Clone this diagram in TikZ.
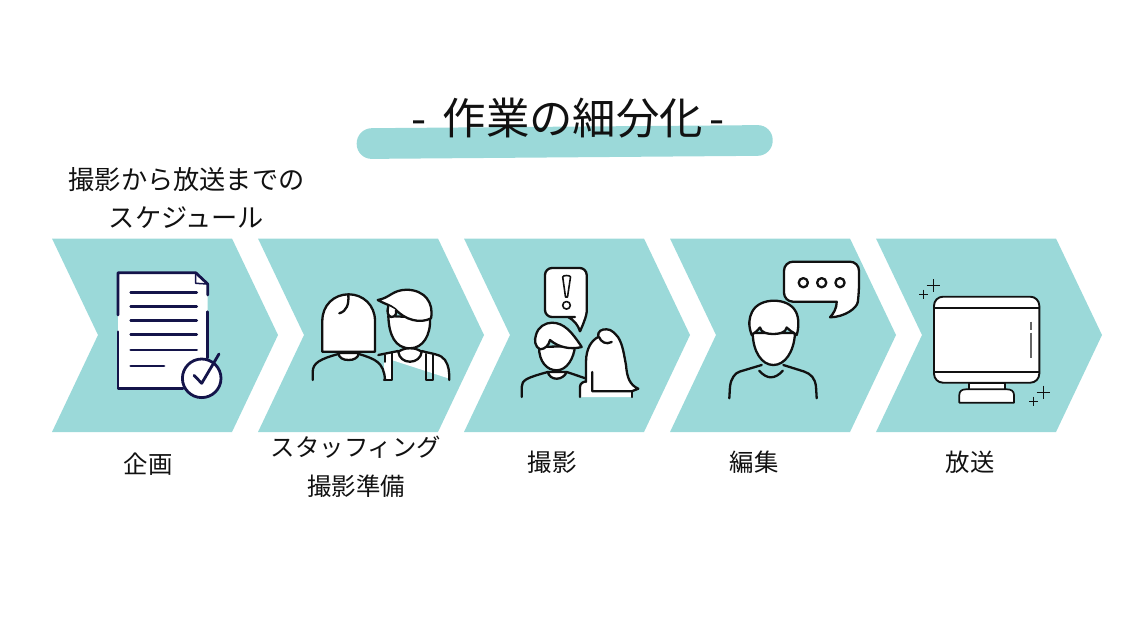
\documentclass[tikz,border=0pt]{standalone}
\usepackage{fontspec}
\setmainfont{Noto Sans CJK JP}
\definecolor{tealband}{HTML}{9BD9D9}
\definecolor{navyline}{HTML}{14144A}
\definecolor{inkline}{HTML}{111111}
\definecolor{screenline}{HTML}{666666}
\tikzset{
  iconline/.style={draw=inkline,fill=white,line width=2.3pt,line join=round,line cap=round},
  openline/.style={draw=inkline,line width=2.3pt,line join=round,line cap=round},
  docline/.style={draw=navyline,line width=2.8pt,line cap=round,line join=round},
  steplabel/.style={font=\fontsize{24.4}{24.4}\selectfont,inner sep=0pt,text=inkline},
  notelabel/.style={font=\fontsize{26.2}{26.2}\selectfont,inner sep=0pt,text=inkline}
}
\begin{document}
\begin{tikzpicture}
[x=1pt,y=-1pt]
\useasboundingbox (0,0) rectangle (1140,641);
% bands
\foreach \x in {0,206,412,618,824}
  \fill[tealband] (52+\x,238.5) -- (232+\x,238.5) -- (278+\x,335) -- (232+\x,432)
    -- (52+\x,432) -- (98+\x,335) -- cycle;
% title
\fill[tealband,rounded corners=15pt] (356.7,128.3) -- (772.7,125) -- (772.7,155.7) -- (356.7,159) -- cycle;
\node[inner sep=0pt,font=\fontsize{43.4}{43.4}\selectfont,text=inkline] (title) at (568,118) {-\hspace{6pt} 作業の細分化\hspace{6pt}-};
\node[notelabel] (note1) at (186.5,180) {撮影から放送までの};
\node[notelabel] (note2) at (186.5,217.5) {スケジュール};
\node[steplabel] (plan) at (148,464) {企画};
\node[steplabel] (staff1) at (356,447) {スタッフィング};
\node[steplabel] (staff2) at (356,486) {撮影準備};
\node[steplabel] (shoot) at (552,462) {撮影};
\node[steplabel] (edit) at (754,462) {編集};
\node[steplabel] (air) at (970,462) {放送};
% document
\fill[white] (118,272.7) -- (195.7,272.7) -- (207.7,284) -- (207.7,388.7) -- (118,388.7) -- cycle;
\draw[docline] (118,315) -- (118,272.7) -- (195.7,272.7) -- (207.7,284) -- (207.7,295);
\draw[docline] (207.7,311.7) -- (207.7,358);
\draw[docline] (118,331.7) -- (118,388.7) -- (183,388.7);
\draw[docline,line width=1.5pt] (195.7,272.7) -- (195.7,283.3) -- (207.7,284);
\foreach \y in {292.7,306.7,320.7,334.7,350}
  \draw[docline] (130.7,\y) -- (196.7,\y);
\draw[docline] (130.7,366) -- (164,366);
\draw[docline,fill=white] (201.7,378.3) circle (19.3);
\draw[docline] (194,375.3) -- (201.7,383.3) -- (219,354);
% two people
\fill[white] (384,353) -- (421.7,351) -- (441.7,355.7) -- (449.3,368.3) -- (449.3,380) -- (448.3,378.3)
  -- (391.7,360) -- (391.7,380) -- (384,380) -- cycle;
\draw[openline] (378.3,355) -- (398.3,351);
\draw[openline] (421.7,351) .. controls (432,354) and (441,354) .. (445,360) .. controls (449,366) and (449.3,372) .. (449.3,380);
\draw[openline] (384,380) -- (391.7,380) -- (391.7,353);
\draw[openline,line width=1.5pt] (385,355) -- (385,362);
\draw[openline] (425.7,354) -- (425.7,380) -- (433.3,380) -- (433.3,354);
\draw[iconline] (388.3,316) .. controls (389,335) and (395,348.3) .. (410,348.3)
  .. controls (423,348.3) and (431,335) .. (430,318) -- cycle;
\draw[iconline] (398.3,351.7) .. controls (399,358) and (404,361.7) .. (410,361.7) .. controls (416,361.7) and (421,358) .. (421.7,351.7)
  .. controls (417,349) and (415,348.3) .. (410,348.3) .. controls (405,348.3) and (403,349) .. (398.3,351.7) -- cycle;
\draw[iconline] (377.7,300) .. controls (390,298) and (392,290) .. (406.7,289.7) .. controls (425,290) and (434,303) .. (431,318.3)
  .. controls (420,324) and (405,320) .. (395,309) .. controls (390,305) and (385,304) .. (377.7,300) -- cycle;
\draw[iconline] (388.3,305.7) .. controls (387,312) and (387,315) .. (391,317) .. controls (395,317) and (397,314) .. (396,310);
\draw[openline] (312.7,380) -- (312.7,372) .. controls (312.7,363) and (320,359) .. (338.3,354);
\draw[openline] (359,354) .. controls (375,359) and (384,362) .. (385,380);
\draw[iconline] (338.3,353) .. controls (339,358) and (343,360) .. (348.7,360) .. controls (354,360) and (358,358) .. (359,353) -- cycle;
\draw[iconline] (322.3,351.7) -- (322.3,321) .. controls (322.3,305) and (334,294.3) .. (348.7,294.3)
  .. controls (363,294.3) and (375,305) .. (375,321) -- (375,351.7) -- cycle;
\draw[openline] (348.3,295) .. controls (349,304) and (347,311) .. (339.3,313.3);
% man and woman talking
\draw[iconline,rounded corners=7pt] (575,317) -- (545,317) -- (545,268) -- (586.7,268) -- (586.7,305)
  [sharp corners] .. controls (586.7,315) and (583,325) .. (580,331.3) .. controls (578,325) and (574,320) .. (568,317) -- cycle;
\draw[openline,line width=1.6pt] (562.7,277) .. controls (562.7,275) and (570.5,275) .. (570.5,277)
  -- (567.5,297) -- (565.5,297) -- cycle;
\draw[openline,line width=1.6pt] (566.5,305.3) circle (3.8);
\draw[openline] (521.7,397) -- (521.7,387) .. controls (522,380) and (526,378) .. (547.7,372);
\draw[openline] (566.7,372) -- (586.7,378.7);
\draw[iconline] (547.7,372) .. controls (549,376) and (552,378.7) .. (556.7,378.7) .. controls (561,378.7) and (565,376) .. (566.7,372) -- cycle;
\draw[iconline] (539,347) .. controls (539,362) and (547,370.3) .. (556.7,370.3) .. controls (567,370.3) and (574,358) .. (575,346) -- cycle;
\draw[iconline] (581.7,347) .. controls (570,350) and (558,347) .. (550,340) .. controls (549,345) and (545,349.3) .. (540,349.3)
  .. controls (535,347) and (534,340) .. (536,335) .. controls (538,327) and (545,322.7) .. (552,322.7) .. controls (564,322.7) and (572,332) .. (581.7,347) -- cycle;
\fill[white] (580,397) -- (580,387) .. controls (580,383) and (583,382) .. (587,381) -- (631.7,385) -- (631.7,397) -- cycle;
\draw[openline] (580,397) -- (580,387) .. controls (580,383) and (583,382) .. (587,381);
\draw[openline] (631.7,391) -- (631.7,397);
\fill[white] (586,382) -- (586,362) .. controls (586,348) and (592,340) .. (598.3,337)
  .. controls (597,331) and (602,329) .. (606.7,329.3) .. controls (612,329.3) and (615,334) .. (618,337)
  .. controls (623,345) and (624,355) .. (626,365) .. controls (627,378) and (630,385) .. (638.3,388.7) -- (631.7,391.3) -- (586,391.3) -- cycle;
\draw[openline] (586,382) -- (586,362) .. controls (586,348) and (592,340) .. (598.3,337)
  .. controls (597,331) and (602,329) .. (606.7,329.3) .. controls (612,329.3) and (615,334) .. (618,337)
  .. controls (623,345) and (624,355) .. (626,365) .. controls (627,378) and (630,385) .. (638.3,388.7) -- (631.7,391.3) -- (592.3,391.3) -- (592.3,372);
\draw[openline] (599,337) .. controls (601,342) and (606,345) .. (611.7,342);
% person speaking
\draw[iconline,rounded corners=9pt] (836.7,301.7) -- (784,301.7) -- (784,261.7) -- (859,261.7) -- (859,293)
  [sharp corners] .. controls (857,308) and (845,317) .. (830,317.3) .. controls (834,313) and (836.7,308) .. (836.7,301.7) -- cycle;
\foreach \x in {803.3,821.7,840}
  \draw[openline] (\x,282.7) circle (4.6);
\draw[openline] (729.3,398.3) -- (730,386.7) .. controls (731,378) and (735,373) .. (740,371.5) -- (761.7,365);
\draw[openline] (783.3,365) -- (804,371.5) .. controls (811,374) and (815,378) .. (816,386.7) -- (816.7,398.3);
\draw[openline] (759.3,370.7) .. controls (763,375) and (767,377.3) .. (770.7,377.3) .. controls (775,377.3) and (779,375) .. (782.7,370.7);
\draw[iconline] (752.7,333) .. controls (753,352) and (762,365) .. (773.3,365) .. controls (785,365) and (794,352) .. (795,333) -- cycle;
\draw[iconline] (751.7,335) .. controls (748,325) and (749,318) .. (752,312) .. controls (756,304) and (765,300.7) .. (774,300.7)
  .. controls (783,300.7) and (792,304) .. (796,312) .. controls (799,318) and (799,327) .. (796.7,335)
  .. controls (792,331) and (789,331) .. (786.7,327.5) .. controls (786,333) and (778,334) .. (773.3,334)
  .. controls (768,334) and (761,333) .. (760,327.5) .. controls (758,331) and (755,332) .. (751.7,335) -- cycle;
% monitor
\draw[iconline,line width=1.9pt,rounded corners=9pt] (934,296.7) rectangle (1039.3,382.7);
\draw[openline,line width=1.7pt] (934,307.7) -- (1039.3,307.7) (934,372.3) -- (1039.3,372.3);
\draw[iconline,line width=1.6pt] (969,382.7) rectangle (1005,389.3);
\draw[iconline,line width=1.7pt] (959.3,402.7) -- (959.3,395) .. controls (959.3,391) and (962,389.3) .. (966,389.3) -- (1007,389.3)
  .. controls (1011,389.3) and (1014,391) .. (1014,395) -- (1014,402.7) -- cycle;
\draw[screenline,line width=1.6pt] (1031,321.7) -- (1031,330) (1031,332.7) -- (1031,358.3);
\foreach \x/\y/\r in {933.3/285.7/6.7,923.7/294.3/4.7,1043.3/392.3/6.7,1033.7/401.3/4.7}
  \draw[inkline,line width=1.3pt] (\x-\r,\y) -- (\x+\r,\y) (\x,\y-\r) -- (\x,\y+\r);
\end{tikzpicture}
\end{document}
